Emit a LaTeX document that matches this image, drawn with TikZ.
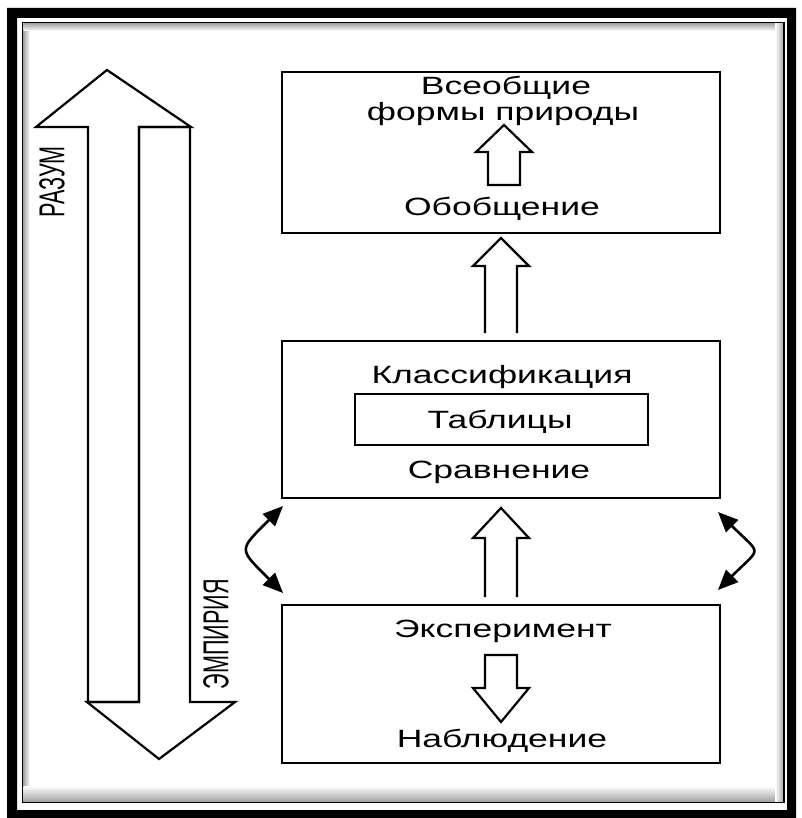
\documentclass[tikz,border=0pt]{standalone}
\usepackage{fontspec}
\setmainfont{Liberation Sans}
\newfontfamily\boxfont[FakeStretch=1.42]{Liberation Sans}
\newfontfamily\narrowfont[FakeStretch=0.6]{Liberation Sans}
\usetikzlibrary{calc,arrows.meta}

\tikzset{
  framebox/.style={draw, line width=2.4pt, minimum width=438pt, inner sep=0pt, outer sep=0pt},
  boxtext/.style={font=\boxfont\fontsize{25}{29}\selectfont, anchor=base, inner sep=0pt},
  sidetext/.style={font=\narrowfont\fontsize{36}{40}\selectfont, rotate=90, inner sep=0pt},
  blockline/.style={draw, line width=2.2pt, line join=miter},
  swing/.style={line width=2.6pt, {Triangle[length=20pt,width=17pt]}-{Triangle[length=20pt,width=17pt]}},
}

% hollow block arrow: tail, tip, head offset (picture y), closing
\newcommand{\hollowarrow}[4]{%
  \draw[blockline] ($(#1-|#2)+(-16,0)$) -- ($(#2)+(-16,#3)$) -- ($(#2)+(-28,#3)$) -- (#2)
    -- ($(#2)+(28,#3)$) -- ($(#2)+(16,#3)$) -- ($(#1-|#2)+(16,0)$) #4;}

\begin{document}
\begin{tikzpicture}[x=1pt,y=-1pt]
\useasboundingbox (0,0) rectangle (801,818);
\fill[white] (0,0) rectangle (801,818);

% ======================= frame ==========================================
\fill[even odd rule] (7,8) rectangle (796,819) (17,18) rectangle (787,810);
\shade[left color=gray!70, right color=white] (23.5,23.5) rectangle (30,802);
\shade[top color=gray!70, bottom color=white] (23.5,23.5) rectangle (784,31);
\shade[top color=white, bottom color=gray!75] (23.5,786) rectangle (784,802);
\shade[left color=white, right color=gray!75] (775,23.5) rectangle (784,802);
\draw[line width=1.5pt] (22.5,22.5) rectangle (784,802.5);

% ======================= the two-way arrow: reason / empiricism =========
\draw[blockline] (88,702) -- (88,127) -- (36,127) -- (107,70) -- (191,127) -- (139,127) -- (139,702) -- cycle;
\draw[blockline] (139,127) -- (190,127) -- (190,702) -- (235,702) -- (159,759) -- (87,702) -- (139,702) -- cycle;
\node[sidetext] (razum) at (52,182) {РАЗУМ};
\node[sidetext] (empir) at (216,634) {ЭМПИРИЯ};

% ======================= the three levels ===============================
\node[framebox, minimum height=161pt] (forms) at (501,152.5) {};
\node[framebox, minimum height=157pt] (classif) at (501,419.5) {};
\node[framebox, minimum height=158pt] (exper) at (501,684) {};
\node[draw, line width=2pt, minimum width=293pt, minimum height=51pt] (tabbox) at (501.5,419.5) {};

\node[boxtext] (vseob) at (506,95) {Всеобщие};
\node[boxtext] (formy) at (503,121) {формы природы};
\node[boxtext] (obob) at (502,215) {Обобщение};
\node[boxtext] (klass) at (502,383) {Классификация};
\node[boxtext] (tabl) at (500,428) {Таблицы};
\node[boxtext] (sravn) at (499,478) {Сравнение};
\node[boxtext] (eksp) at (503,637) {Эксперимент};
\node[boxtext] (nabl) at (502,747) {Наблюдение};

% ======================= hollow arrows ==================================
\coordinate (ga) at (504,185);  \coordinate (gb) at (504,125);
\coordinate (gc) at ($(classif.north)+(0,-8)$);  \coordinate (gd) at ($(forms.south)+(0,5)$);
\coordinate (ge) at ($(exper.north)+(0,-8)$);  \coordinate (gf) at ($(classif.south)+(0,10)$);
\coordinate (gg) at (501,655);  \coordinate (gh) at (501,722);
\hollowarrow{ga}{gb}{27}{-- cycle}
\hollowarrow{gc}{gd}{28}{}
\hollowarrow{ge}{gf}{30}{}
\hollowarrow{gg}{gh}{-34}{-- cycle}

% ======================= back and forth =================================
\draw[swing] ($(classif.south west)+(1,8)$) .. controls +(-45,45) and +(-45,-45) .. ($(exper.north west)+(1,-12)$);
\draw[swing] ($(classif.south east)+(-2,14)$) .. controls +(44,44) and +(44,-44) .. ($(exper.north east)+(-2,-15)$);

\end{tikzpicture}
\end{document}
